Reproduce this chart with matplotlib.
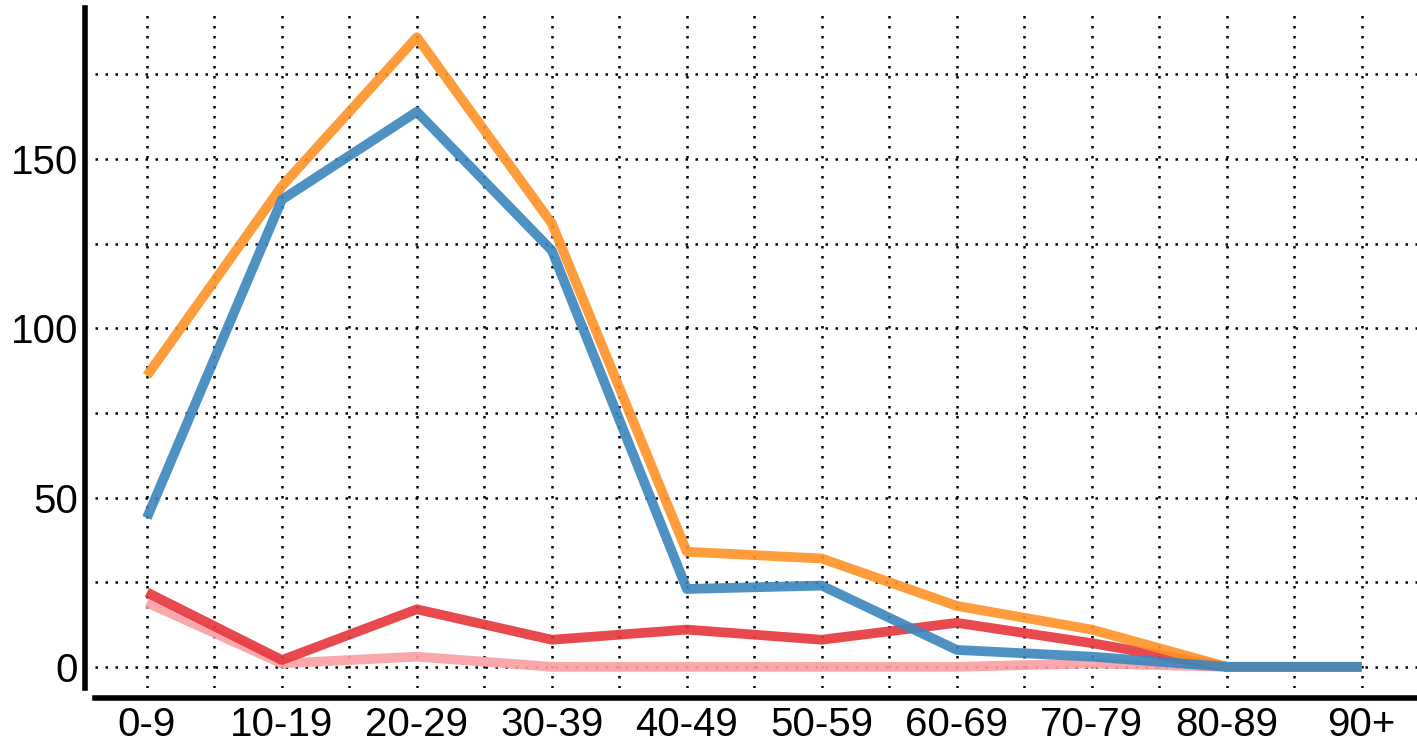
import matplotlib.pyplot as plt
from matplotlib.ticker import MultipleLocator

plt.rcParams['font.family'] = ['Liberation Sans', 'DejaVu Sans']

age_groups = ['0-9', '10-19', '20-29', '30-39', '40-49', '50-59', '60-69', '70-79', '80-89', '90+']
pink_vals = [19, 1, 3, 0, 0, 0, 0, 1, 0, 0]
red_vals = [22, 2, 17, 8, 11, 8, 13, 7, 0, 0]
orange_vals = [86, 142, 186, 131, 34, 32, 18, 11, 0, 0]
blue_vals = [44, 138, 164, 123, 23, 24, 5, 3, 0, 0]

fig = plt.figure(figsize=(14.17, 7.38), dpi=100)
ax = fig.add_axes([0.067, 0.068, 0.933, 0.921])

x = range(len(age_groups))
lw = 7
ax.plot(x, pink_vals, color='#fb9fa3', lw=lw, alpha=0.9, solid_capstyle='butt')
ax.plot(x, red_vals, color='#e6353c', lw=lw, alpha=0.9, solid_capstyle='butt')
ax.plot(x, orange_vals, color='#ff9126', lw=lw, alpha=0.9, solid_capstyle='butt')
ax.plot(x, blue_vals, color='#3a86bd', lw=lw, alpha=0.9, solid_capstyle='butt')

ax.set_xlim(-0.385, 9.41)
ax.set_ylim(-6.2, 194.6)
ax.set_xticks(list(x))
ax.set_xticklabels(age_groups)
ax.xaxis.set_minor_locator(MultipleLocator(0.5))
ax.yaxis.set_major_locator(MultipleLocator(50))
ax.yaxis.set_minor_locator(MultipleLocator(25))
ax.tick_params(which='both', length=0, labelsize=29)
ax.tick_params(axis='y', pad=5)
ax.tick_params(axis='x', pad=6)
ax.grid(which='both', color='black', linestyle=(0, (1, 3)), linewidth=1.8)
ax.set_axisbelow(True)

for side in ['top', 'right']:
    ax.spines[side].set_visible(False)
for side in ['left', 'bottom']:
    ax.spines[side].set_linewidth(4)
    ax.spines[side].set_position(('outward', 7))

fig.savefig('out.png', dpi=100)
